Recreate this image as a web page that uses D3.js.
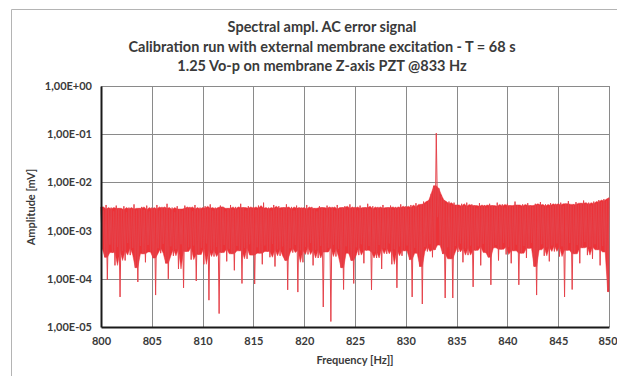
<!DOCTYPE html>
<html><head><meta charset="utf-8">
<script src="https://cdn.jsdelivr.net/npm/d3@7"></script>
<style>body{margin:0;background:#fff}</style>
</head><body><svg id="c" width="617" height="376"></svg>
<script>
const titleLines = [
  "Spectral ampl. AC error signal",
  "Calibration run with external membrane excitation - T = 68 s",
  "1.25 Vo-p on membrane Z-axis PZT @833 Hz"
];
const xLabel = "Frequency [Hz]]";
const yLabel = "Amplitude [mV]";
const xTicks = [800, 805, 810, 815, 820, 825, 830, 835, 840, 845, 850];
const yTicks = [1, 0.1, 0.01, 0.001, 0.0001, 0.00001];
const yTickLabels = ["1,00E+00", "1,00E-01", "1,00E-02", "1,00E-03", "1,00E-04", "1,00E-05"];

// spectrum envelope: 0.25 Hz bins from 800 Hz,
// upper value at bin start, lower value half a bin later (mV)
const binStartHz = 800;
const binWidthHz = 0.25;
const upper = [
  0.0031,0.0026,0.0034,0.0028,0.0030,0.0025,0.0033,0.0029,0.0027,0.0032,0.0024,0.0030,0.0028,0.0035,0.0026,0.0029,0.0031,0.0027,0.0033,0.0025,
  0.0030,0.0028,0.0034,0.0026,0.0031,0.0029,0.0036,0.0027,0.0030,0.0024,0.0032,0.0028,0.0026,0.0033,0.0029,0.0031,0.0025,0.0034,0.0028,0.0030,
  0.0027,0.0032,0.0029,0.0035,0.0026,0.0030,0.0028,0.0033,0.0031,0.0025,0.0029,0.0034,0.0027,0.0031,0.0028,0.0036,0.0030,0.0026,0.0032,0.0029,
  0.0031,0.0027,0.0033,0.0029,0.0038,0.0028,0.0030,0.0026,0.0034,0.0029,0.0032,0.0027,0.0030,0.0035,0.0028,0.0031,0.0026,0.0033,0.0029,0.0030,
  0.0028,0.0034,0.0027,0.0031,0.0029,0.0025,0.0032,0.0030,0.0027,0.0033,0.0029,0.0031,0.0026,0.0034,0.0028,0.0030,0.0032,0.0027,0.0035,0.0029,
  0.0031,0.0026,0.0033,0.0029,0.0030,0.0036,0.0028,0.0032,0.0027,0.0031,0.0029,0.0034,0.0028,0.0030,0.0033,0.0027,0.0031,0.0029,0.0035,0.0030,
  0.0032,0.0028,0.0034,0.0030,0.0037,0.0031,0.0035,0.0040,0.0036,0.0042,0.0058,0.0085,0.1050,0.0075,0.0055,0.0043,0.0036,0.0040,0.0033,0.0038,
  0.0034,0.0030,0.0036,0.0032,0.0038,0.0031,0.0035,0.0033,0.0029,0.0037,0.0032,0.0034,0.0030,0.0036,0.0033,0.0031,0.0038,0.0032,0.0035,0.0030,
  0.0036,0.0033,0.0031,0.0040,0.0034,0.0030,0.0035,0.0032,0.0037,0.0033,0.0031,0.0036,0.0034,0.0039,0.0032,0.0035,0.0030,0.0037,0.0033,0.0036,
  0.0034,0.0038,0.0032,0.0036,0.0041,0.0033,0.0035,0.0039,0.0034,0.0037,0.0042,0.0035,0.0038,0.0033,0.0040,0.0036,0.0043,0.0039,0.0045,0.0041,
  0.0048
];
const lower = [
  0.00042,0.00028,0.000095,0.00051,0.00035,0.00019,0.00046,0.000042,0.00038,0.00024,0.00055,0.00031,0.00044,0.00017,0.000086,0.00048,0.00033,0.00022,0.00050,0.00036,
  0.00027,0.000046,0.00043,0.00034,0.00053,0.00021,0.00010,0.00047,0.00030,0.00041,0.00016,0.00052,0.000065,0.00037,0.00045,0.00025,0.00049,0.00009,0.00032,0.00044,
  0.00020,0.00054,0.000036,0.00039,0.00029,0.00046,0.000019,0.00035,0.00050,0.00023,0.00042,0.00033,0.00015,0.00048,0.00038,0.00008,0.00044,0.00026,0.00052,0.00031,
  0.000078,0.00045,0.00034,0.00020,0.00049,0.00037,0.00028,0.00053,0.00018,0.00041,0.00030,0.00047,0.00024,0.000059,0.00043,0.00035,0.00050,0.000053,0.00039,0.00022,
  0.00046,0.00032,0.00055,0.00019,0.00040,0.00027,0.00048,0.000026,0.00036,0.00044,0.000013,0.00051,0.00029,0.00042,0.00017,0.00006,0.00047,0.00034,0.00024,0.00008,
  0.00045,0.00031,0.00052,0.00021,0.00039,0.00048,0.000059,0.00036,0.00027,0.00050,0.00016,0.00043,0.00033,0.00054,0.00020,0.00041,0.000065,0.00047,0.00030,0.00038,
  0.00049,0.00025,0.000042,0.00044,0.00034,0.00018,0.00003,0.00046,0.00037,0.00052,0.00028,0.00040,0.0019,0.00050,0.00033,0.00004,0.00045,0.00026,0.00004,0.00048,
  0.00036,0.00054,0.00022,0.00043,0.00031,0.00049,0.000068,0.00039,0.00047,0.00019,0.00053,0.00035,0.00028,0.000075,0.00044,0.00050,0.00024,0.00041,0.00055,0.00032,
  0.00046,0.00021,0.00038,0.00051,0.000075,0.00034,0.00048,0.00027,0.00043,0.00056,0.00018,0.000046,0.00040,0.00052,0.00030,0.00045,0.00023,0.00049,0.00037,0.00054,
  0.00029,0.00047,0.000042,0.00039,0.00055,0.00006,0.00033,0.00050,0.00021,0.00044,0.00058,0.00031,0.00046,0.00026,0.00052,0.00040,0.00019,0.00048,0.00036,0.000054
];

const W = 617, H = 376;
const plot = {left: 101, right: 609, top: 86, bottom: 327};
const font = "Lato, 'Open Sans', sans-serif";
const textColor = "#3a3a3a";
const red = "#ec3238";

const svg = d3.select("#c");
svg.append("rect").attr("width", W).attr("height", H).attr("fill", "#fff");
svg.append("path").attr("d", "M11.5,376V9.5H617").attr("fill", "none").attr("stroke", "#b4b4b4").attr("stroke-width", 1);

const x = d3.scaleLinear().domain([800, 850]).range([plot.left, plot.right]);
const y = d3.scaleLog().domain([1e-5, 1]).range([plot.bottom, plot.top]);

// grid
const grid = svg.append("g").attr("stroke", "#8a8a8a").attr("stroke-width", 1);
grid.selectAll("line.v").data(xTicks.slice(1)).join("line").attr("class", "v")
  .attr("x1", d => Math.round(x(d)) + 0.5).attr("x2", d => Math.round(x(d)) + 0.5)
  .attr("y1", plot.top).attr("y2", plot.bottom);
grid.selectAll("line.h").data(yTicks.slice(0, -1)).join("line").attr("class", "h")
  .attr("y1", d => Math.round(y(d)) + 0.5).attr("y2", d => Math.round(y(d)) + 0.5)
  .attr("x1", plot.left).attr("x2", plot.right);

// spectrum: solid core of the dense trace (3-bin median of the extremes) ...
const med3 = (arr, i) => d3.median([arr[Math.max(0, i - 1)], arr[i], arr[Math.min(arr.length - 1, i + 1)]]);
const bins = upper.map((u, i) => ({
  f: binStartHz + i * binWidthHz,
  top: med3(upper, i),
  bot: med3(lower, Math.min(i, lower.length - 1))
}));
svg.append("path").datum(bins)
  .attr("fill", red).attr("stroke", red).attr("stroke-width", 0.5)
  .attr("d", d3.area()
    .x1(d => x(d.f)).y1(d => y(d.top))
    .x0(d => x(Math.min(d.f + binWidthHz / 2, 850))).y0(d => y(d.bot)));

// ... plus the trace through every extreme value (thin spikes)
const pts = [];
upper.forEach((u, i) => {
  const f = binStartHz + i * binWidthHz;
  pts.push([f, u]);
  if (i < lower.length) pts.push([f + binWidthHz / 2, lower[i]]);
});
svg.append("path").datum(pts)
  .attr("fill", "none").attr("stroke", "#e5434b").attr("stroke-width", 1)
  .attr("d", d3.line().x(d => x(d[0])).y(d => y(d[1])));

// axes
const yAxis = d3.axisLeft(y).tickValues(yTicks).tickFormat((d, i) => yTickLabels[i]).tickSize(0).tickPadding(9);
const gy = svg.append("g").attr("transform", `translate(${plot.left},0)`).call(yAxis);
const xAxis = d3.axisBottom(x).tickValues(xTicks).tickFormat(d3.format("d")).tickSize(0).tickPadding(10);
const gx = svg.append("g").attr("transform", `translate(0,${plot.bottom})`).call(xAxis);
[gx, gy].forEach(g => {
  g.select(".domain").attr("stroke", "#1a1a1a").attr("stroke-width", 2);
  g.selectAll("text").attr("font-family", font).attr("font-weight", "bold").attr("fill", textColor);
});
gy.selectAll("text").attr("font-size", 11);
gx.selectAll("text").attr("font-size", 11);
gx.selectAll(".tick").filter(d => d === 850).select("text").attr("dx", -1.5);

// labels
svg.append("text").attr("x", (plot.left + plot.right) / 2).attr("y", 364)
  .attr("text-anchor", "middle").attr("font-family", font).attr("font-weight", "bold")
  .attr("font-size", 11).attr("fill", textColor).text(xLabel);
svg.append("text").attr("transform", `translate(35,207) rotate(-90)`)
  .attr("text-anchor", "middle").attr("font-family", font).attr("font-weight", "bold")
  .attr("font-size", 11).attr("fill", textColor).text(yLabel);

// title
svg.append("g").selectAll("text").data(titleLines).join("text")
  .attr("x", 322).attr("y", (d, i) => 32 + i * 19.5)
  .attr("text-anchor", "middle").attr("font-family", font).attr("font-weight", "bold")
  .attr("font-size", 14.5).attr("fill", textColor).text(d => d);
</script>
</body></html>
